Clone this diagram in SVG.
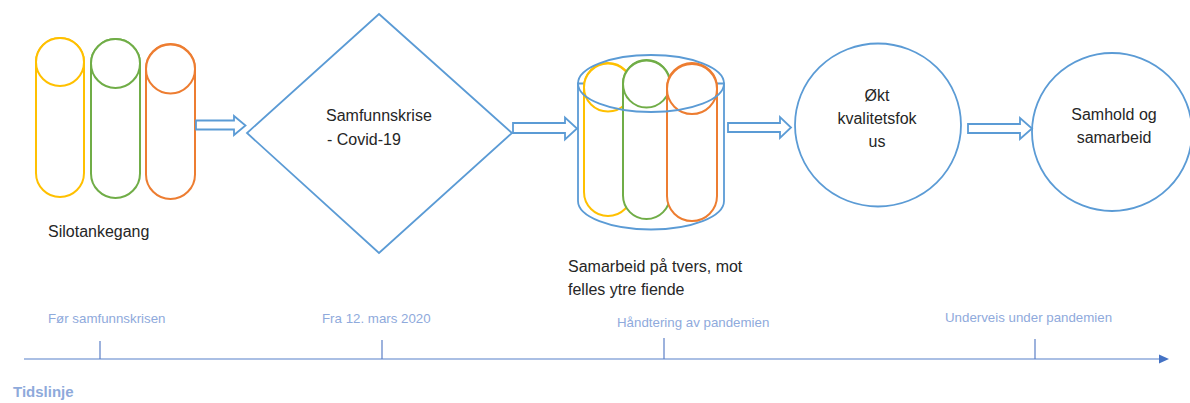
<svg xmlns="http://www.w3.org/2000/svg" width="1190" height="403" viewBox="0 0 1190 403">
<style>
  .pill { stroke-width: 2; fill: #ffffff; }
  .y { stroke: #ffc000; }
  .g { stroke: #70ad47; }
  .o { stroke: #ed7d31; }
  .blue { stroke: #5b9bd5; stroke-width: 1.8; fill: #ffffff; }
  .outline { stroke: #5b9bd5; stroke-width: 1.8; fill: none; }
  .t { font-family: "Liberation Sans", Arial, sans-serif; font-size: 16px; fill: #262626; }
  .tl { font-family: "Liberation Sans", Arial, sans-serif; font-size: 13.3px; fill: #8faadc; }
  .tick { stroke: #5b7fc7; stroke-width: 1.2; }
</style>

<g id="silotankegang">
  <rect class="pill y" x="36" y="38" width="48" height="159" rx="24"/>
  <circle class="pill y" cx="60" cy="62" r="24"/>
  <rect class="pill g" x="91" y="39" width="49" height="159" rx="24.5"/>
  <circle class="pill g" cx="115.5" cy="63.5" r="24.5"/>
  <rect class="pill o" x="146" y="44" width="49" height="155" rx="24.5"/>
  <circle class="pill o" cx="170.5" cy="69" r="24.5"/>
  <text class="t" x="48" y="237">Silotankegang</text>
</g>

<g id="samfunnskrise">
  <polygon class="blue" points="379,14 512,133 379,253 247,133"/>
  <text class="t" x="326" y="121">Samfunnskrise</text>
  <text class="t" x="327" y="145">- Covid-19</text>
</g>

<g id="samarbeid-paa-tvers">
  <path class="blue" d="M578,83.5 V201 A73,28.5 0 0 0 724,201 V83.5 Z"/>
  <rect class="pill y" x="584" y="63" width="48" height="153" rx="24"/>
  <circle class="pill y" cx="608" cy="87.5" r="24"/>
  <rect class="pill g" x="623" y="60" width="47" height="159" rx="23.5"/>
  <circle class="pill g" cx="646.5" cy="84" r="23.5"/>
  <rect class="pill o" x="667" y="63" width="50" height="158" rx="25"/>
  <circle class="pill o" cx="692" cy="89" r="25"/>
  <ellipse class="outline" cx="651" cy="83.5" rx="73" ry="28.5"/>
  <text class="t" x="568" y="272">Samarbeid på tvers, mot</text>
  <text class="t" x="568" y="295">felles ytre fiende</text>
</g>

<g id="kvalitetsfokus">
  <ellipse class="blue" cx="878" cy="125" rx="83" ry="81.5"/>
  <text class="t" x="877" y="101" text-anchor="middle">Økt</text>
  <text class="t" x="877" y="124" text-anchor="middle">kvalitetsfok</text>
  <text class="t" x="877" y="147" text-anchor="middle">us</text>
</g>

<g id="samhold">
  <ellipse class="blue" cx="1112" cy="132" rx="80" ry="79"/>
  <text class="t" x="1114" y="120" text-anchor="middle">Samhold og</text>
  <text class="t" x="1114" y="143" text-anchor="middle">samarbeid</text>
</g>

<g id="connectors">
  <path class="blue" d="M196,120.5 H234 V116 L245.5,125.5 L234,135 V129.5 H196 Z"/>
  <path class="blue" d="M513,123 H565 V117.5 L577,128.5 L565,139.5 V133 H513 Z"/>
  <path class="blue" d="M728,123 H780 V117 L791,127.5 L780,138 V132 H728 Z"/>
  <path class="blue" d="M968,124 H1020 V118 L1032,128.5 L1020,139 V133 H968 Z"/>
</g>

<g id="tidslinje">
  <line x1="24" y1="359" x2="1161" y2="359" stroke="#8eaadb" stroke-width="1.5"/>
  <polygon points="1159,354.5 1169,359 1159,363.5" fill="#4472c4"/>
  <line class="tick" x1="100" y1="341" x2="100" y2="359"/>
  <line class="tick" x1="382" y1="340" x2="382" y2="359"/>
  <line class="tick" x1="664" y1="338" x2="664" y2="359"/>
  <line class="tick" x1="1035" y1="339" x2="1035" y2="359"/>
  <text class="tl" x="48" y="323">Før samfunnskrisen</text>
  <text class="tl" x="322" y="323">Fra 12. mars 2020</text>
  <text class="tl" x="617" y="327">Håndtering av pandemien</text>
  <text class="tl" x="945" y="322">Underveis under pandemien</text>
  <text x="13" y="397" font-family="Liberation Sans, Arial, sans-serif" font-size="15px" font-weight="bold" fill="#8eaadb">Tidslinje</text>
</g>
</svg>
